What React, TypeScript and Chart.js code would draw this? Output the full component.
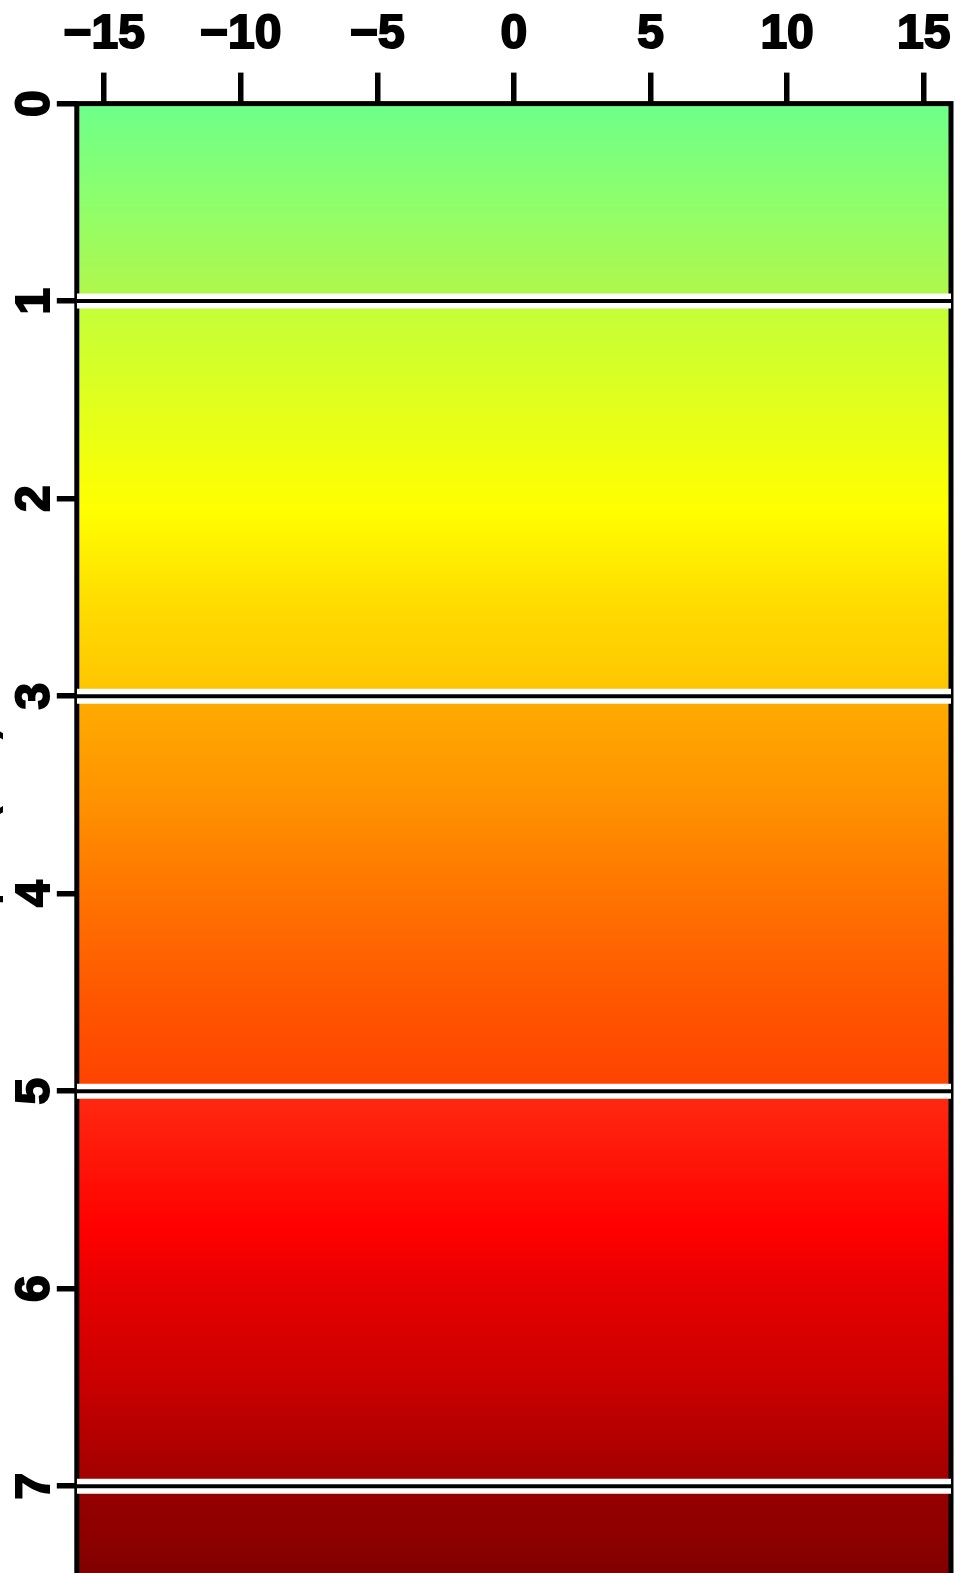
import React, { useEffect, useRef } from "react";
import { Chart, registerables } from "chart.js";

Chart.register(...registerables);

// ---- data ----
const xTicks = [-15, -10, -5, 0, 5, 10, 15];
const depthTicks = [0, 1, 2, 3, 4, 5, 6, 7];
const xLimits = [-16, 16];
const depthLimits = [0, 7.5];
const interfaceDepths = [1, 3, 5, 7];
const colorDepths = [0, 0.5, 0.99, 1.01, 1.5, 2.05, 2.5, 2.99, 3.01, 3.5, 4.0, 4.5, 4.99, 5.01, 5.7, 6.0, 6.5, 6.99, 7.01, 7.25, 7.5];
const colorValues = [
  "#6eff8a", "#8eff6c", "#b2f64a", "#c2ff3a", "#e0ff1e", "#ffff00", "#ffde00",
  "#ffc400", "#ffac00", "#ff9400", "#ff7400", "#ff5800", "#ff4200", "#ff2a10",
  "#ff0000", "#e60000", "#c80000", "#a00000", "#960000", "#8e0000", "#7c0000",
];
const axisTitle = "Depth (km)";

// ---- layout constants ----
const CANVAS_W = 1042;
const CANVAS_H = 1628;
const CANVAS_LEFT = -51.5;
const CANVAS_TOP = -2.8;
const FONT = "'Liberation Sans', Arial, Helvetica, sans-serif";

function makeGradient(chart: any) {
  const { ctx, chartArea, scales } = chart;
  if (!chartArea || !scales || !scales.y) return colorValues[0];
  const y0 = scales.y.getPixelForValue(depthLimits[0]);
  const y1 = scales.y.getPixelForValue(depthLimits[1]);
  const g = ctx.createLinearGradient(0, y0, 0, y1);
  const span = depthLimits[1] - depthLimits[0];
  colorDepths.forEach((d, i) => {
    g.addColorStop(Math.min(1, Math.max(0, (d - depthLimits[0]) / span)), colorValues[i]);
  });
  return g;
}

const fmtTick = (v: number) => (v < 0 ? "\u2212" + Math.abs(v) : String(v));

export default function App() {
  const ref = useRef<HTMLCanvasElement | null>(null);

  useEffect(() => {
    if (!ref.current) return;

    const lineData = (d: number) => [
      { x: xLimits[0], y: d },
      { x: xLimits[1], y: d },
    ];

    const blackLines = interfaceDepths.map((d) => ({
      data: lineData(d),
      borderColor: "#000000",
      borderWidth: 4,
      pointRadius: 0,
      fill: false,
      order: 0,
      borderCapStyle: "butt",
    }));
    const whiteLines = interfaceDepths.map((d) => ({
      data: lineData(d),
      borderColor: "#ffffff",
      borderWidth: 15,
      pointRadius: 0,
      fill: false,
      order: 1,
      borderCapStyle: "butt",
    }));
    const field = {
      data: lineData(depthLimits[0]),
      borderColor: "rgba(0,0,0,0)",
      borderWidth: 0,
      pointRadius: 0,
      fill: { value: depthLimits[1] },
      backgroundColor: (c: any) => makeGradient(c.chart),
      order: 2,
    };
    const datasets: any[] = [...blackLines, ...whiteLines, field];
    const fieldIndex = datasets.length - 1;

    const framePlugin = {
      id: "frame",
      afterDatasetDraw(chart: any, args: any) {
        if (args.index !== fieldIndex) return;
        const { ctx, chartArea } = chart;
        const { left, top, right, bottom } = chartArea;
        ctx.save();
        ctx.strokeStyle = "#000000";
        ctx.lineWidth = 5;
        ctx.strokeRect(left, top, right - left, bottom - top);
        ctx.restore();
      },
    };

    const tickFont = { family: FONT, size: 48, weight: "bold", lineHeight: 1.2 };

    const chart = new Chart(ref.current, {
      type: "line",
      data: { datasets },
      plugins: [framePlugin],
      options: {
        animation: false,
        responsive: false,
        events: [],
        layout: { padding: { left: 0, top: 0, right: 40, bottom: 40 } },
        plugins: {
          legend: { display: false },
          tooltip: { enabled: false },
        },
        scales: {
          x: {
            type: "linear",
            position: "top",
            min: xLimits[0],
            max: xLimits[1],
            afterBuildTicks: (scale: any) => {
              scale.ticks = xTicks.map((v) => ({ value: v }));
            },
            border: { display: false },
            grid: {
              display: true,
              drawOnChartArea: false,
              drawTicks: true,
              tickLength: 31,
              tickWidth: 5.5,
              lineWidth: 5.5,
              tickColor: "#000000",
              color: "#000000",
            },
            ticks: {
              padding: 9,
              maxRotation: 0,
              minRotation: 0,
              color: "#000000",
              textStrokeColor: "#000000",
              textStrokeWidth: 2,
              font: tickFont,
              callback: (v: any) => fmtTick(Number(v)),
            },
          },
          y: {
            type: "linear",
            position: "left",
            reverse: true,
            min: depthLimits[0],
            max: depthLimits[1],
            afterBuildTicks: (scale: any) => {
              scale.ticks = depthTicks.map((v) => ({ value: v }));
            },
            border: { display: false },
            grid: {
              display: true,
              drawOnChartArea: false,
              drawTicks: true,
              tickLength: 20,
              tickWidth: 5.5,
              lineWidth: 5.5,
              tickColor: "#000000",
              color: "#000000",
            },
            ticks: {
              padding: 8,
              minRotation: 90,
              maxRotation: 90,
              crossAlign: "center",
              color: "#000000",
              textStrokeColor: "#000000",
              textStrokeWidth: 2,
              font: tickFont,
              callback: (v: any) => fmtTick(Number(v)),
            },
            title: {
              display: true,
              text: axisTitle,
              color: "#000000",
              font: { family: FONT, size: 46, weight: "bold", lineHeight: 1.2 },
              padding: { top: 4, bottom: -25 },
            },
          },
        },
      } as any,
    });

    return () => chart.destroy();
  }, []);

  return (
    <div
      style={{
        position: "fixed",
        left: 0,
        top: 0,
        width: 956,
        height: 1573,
        overflow: "hidden",
        background: "#ffffff",
      }}
    >
      <canvas
        ref={ref}
        width={CANVAS_W}
        height={CANVAS_H}
        style={{
          position: "absolute",
          left: CANVAS_LEFT,
          top: CANVAS_TOP,
          width: CANVAS_W,
          height: CANVAS_H,
        }}
      />
    </div>
  );
}
